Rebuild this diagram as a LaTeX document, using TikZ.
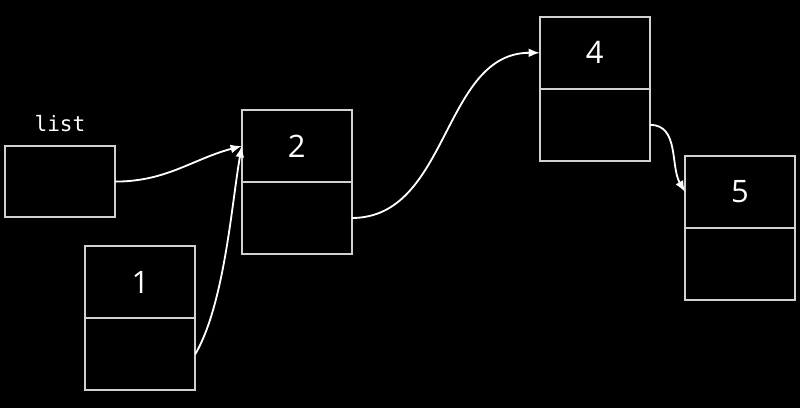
\documentclass[tikz,border=0pt]{standalone}
\usepackage{fontspec}
\setmainfont{Open Sans}
\setmonofont{DejaVu Sans Mono}
\usetikzlibrary{positioning,arrows.meta}
\tikzset{
  >={Latex[length=2.8mm,width=2.2mm]},
}
\tikzstyle{cell}=[draw=white!82!black,line width=1.3pt,minimum width=2.75cm,minimum height=1.8cm,outer sep=0pt,inner sep=0pt]
\tikzstyle{link}=[white,line width=1.3pt,->]
\tikzstyle{every node}=[font=\fontsize{22}{26}\selectfont,text=white]

\begin{document}
\begin{tikzpicture}
    \fill[black] (0,0) rectangle (20,10.2);
    \useasboundingbox (0,0) rectangle (20,10.2);
    \node[cell,minimum height=1.775cm] (head) at (1.5,5.66) {};
    \node[font=\ttfamily\fontsize{15}{17}\selectfont] at (1.5,7.12) {list};
    \node[cell] (v1) at (3.51,3.15) {1};
    \node[cell,below=0pt of v1] (p1) {};
    \node[cell] (v2) at (7.42,6.55) {2};
    \node[cell,below=0pt of v2] (p2) {};
    \node[cell] (v4) at (14.87,8.88) {4};
    \node[cell,below=0pt of v4] (p4) {};
    \node[cell] (v5) at (18.5,5.4) {5};
    \node[cell,below=0pt of v5] (p5) {};
    \draw[link] (head.east) to[out=0,in=195] (v2.west);
    \draw[link] (p1.east) to[out=60,in=260,looseness=.7] (v2.west);
    \draw[link] (p2.east) to[out=0,in=180] (v4.west);
    \draw[link] (p4.east) to[out=0,in=120] (v5.west);
  \end{tikzpicture}
\end{document}
